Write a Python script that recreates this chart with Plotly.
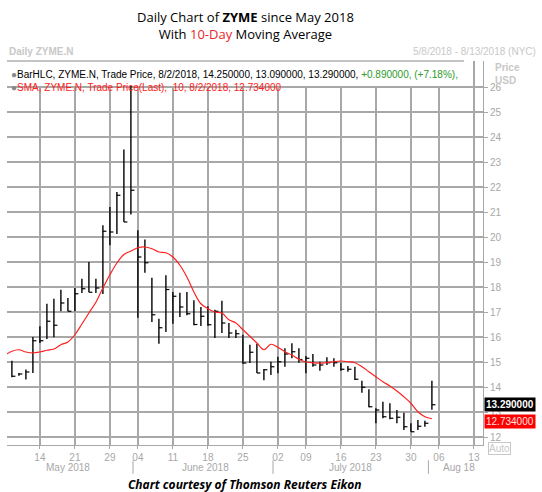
import plotly.graph_objects as go

# trading-day index 0 = 8 May 2018 ... 60 = 2 Aug 2018
high = [15.05, 14.56, 14.7, 16.0, 16.43, 17.33, 17.53, 17.89, 17.56, 17.96,
        18.33, 19.0, 18.33, 20.47, 21.2, 21.8, 23.5, 26.3, 20.27, 19.9,
        18.37, 16.73, 18.47, 17.8, 17.77, 17.8, 17.47, 17.2, 17.23, 17.09,
        17.45, 16.56, 16.29, 16.09, 15.69, 15.73, 14.72, 15.01, 15.21, 15.55,
        15.75, 15.55, 15.24, 15.32, 15.01, 15.19, 15.15, 14.97, 14.84, 14.81,
        14.25, 13.91, 13.15, 13.41, 13.35, 13.08, 12.97, 12.55, 12.68, 12.65, 14.25]
low = [14.39, 14.45, 14.3, 14.56, 15.76, 15.92, 15.99, 17.03, 17.03, 17.03,
       17.76, 17.79, 17.76, 17.72, 19.67, 20.12, 20.6, 20.9, 16.77, 18.57,
       16.6, 15.73, 16.2, 16.53, 16.8, 16.87, 16.47, 16.44, 16.45, 15.96,
       16.16, 15.96, 15.96, 14.93, 14.96, 14.56, 14.27, 14.48, 14.55, 14.81,
       15.15, 14.97, 14.55, 14.81, 14.65, 14.88, 14.81, 14.65, 14.61, 14.28,
       13.77, 13.19, 12.55, 12.75, 12.71, 12.55, 12.28, 12.21, 12.28, 12.41, 13.09]
close = [14.43, 14.52, 14.6, 15.85, 15.85, 16.63, 16.47, 17.36, 17.03, 17.73,
         17.93, 17.79, 17.96, 20.23, 20.2, 21.67, 20.6, 21.87, 19.2, 18.97,
         16.89, 16.37, 17.9, 17.63, 17.2, 16.93, 16.5, 16.83, 16.49, 17.03,
         16.56, 16.16, 16.13, 14.96, 15.39, 14.56, 14.69, 14.81, 15.01, 15.32,
         15.41, 15.1, 15.15, 14.88, 14.88, 14.97, 14.97, 14.71, 14.71, 14.31,
         13.99, 13.21, 13.08, 12.81, 12.75, 12.79, 12.41, 12.21, 12.43, 12.55, 13.29]

sma_x = list(range(-1, 61))
sma = [15.27, 15.43, 15.49, 15.4, 15.36, 15.4, 15.47, 15.52, 15.69, 15.8, 16.09,
       16.52, 16.96, 17.39, 17.96, 18.49, 18.96, 19.3, 19.44, 19.57, 19.6,
       19.53, 19.4, 19.37, 19.2, 18.87, 18.4, 17.8, 17.33, 17.13, 17.0,
       16.96, 16.69, 16.56, 16.29, 16.03, 15.76, 15.49, 15.71, 15.59, 15.41,
       15.28, 15.11, 15.0, 14.97, 14.95, 14.97, 15.01, 15.04, 15.01, 14.97,
       14.81, 14.61, 14.41, 14.21, 14.04, 13.84, 13.61, 13.35, 13.01, 12.81, 12.73]

tick_pos = [4, 9, 14, 18, 23, 28, 33, 38, 42, 47, 52, 57, 61, 66]
tick_text = ["14", "21", "29", "04", "11", "18", "25", "02", "09", "16", "23", "30", "06", "13"]
price_ticks = list(range(12, 27))
months = ["May 2018", "June 2018", "July 2018", "Aug 18"]
month_pos = [8, 27.6, 48.4, 63.8]
month_sep = [17.3, 37.3, 59.5]

GRAY = "#a8a8a8"
FONT = "Liberation Sans"

# HLC bars: vertical high-low segments plus a close tick on the right
bx, by, cx, cy = [], [], [], []
for i in range(len(close)):
    bx += [i, i, None]
    by += [low[i], high[i], None]
    cx += [i, i + 0.5, None]
    cy += [close[i], close[i], None]

fig = go.Figure()
fig.add_trace(go.Scatter(x=bx, y=by, mode="lines", line=dict(color="black", width=1.4), hoverinfo="skip"))
fig.add_trace(go.Scatter(x=cx, y=cy, mode="lines", line=dict(color="black", width=1.2), hoverinfo="skip"))
fig.add_trace(go.Scatter(x=sma_x, y=sma, mode="lines", line=dict(color="#ff2020", width=1.2, shape="spline")))

fig.update_layout(
    width=542, height=492, showlegend=False,
    margin=dict(l=7, r=59, t=61, b=47, autoexpand=False),
    paper_bgcolor="white", plot_bgcolor="white",
    font=dict(family=FONT, size=10, color="black"),
)
fig.update_xaxes(range=[-0.7, 67.3], tickvals=tick_pos, ticktext=tick_text, automargin=False,
                 showgrid=True, gridcolor=GRAY, gridwidth=1.5,
                 tickfont=dict(color=GRAY, size=10), ticks="outside", tickcolor=GRAY, ticklen=3,
                 showline=True, linecolor=GRAY, zeroline=False)
fig.update_yaxes(range=[11.68, 27.04], side="right", tickvals=price_ticks, showgrid=True, gridcolor=GRAY,
                 gridwidth=1.5, automargin=False,
                 tickfont=dict(color=GRAY, size=10), ticks="outside", tickcolor=GRAY, ticklen=4,
                 showline=True, linecolor=GRAY, zeroline=False)

# title
fig.add_annotation(x=0.5, y=1.0, xref="paper", yref="paper", yanchor="top", showarrow=False,
                   yshift=61 - 6, font=dict(size=13, family="Open Sans"),
                   text="Daily Chart of <b>ZYME</b> since May 2018<br>With <span style='color:#e8262a'>10-Day</span> Moving Average")
# header
fig.add_annotation(x=0, y=1, xref="paper", yref="paper", xanchor="left", yanchor="bottom", yshift=2,
                   showarrow=False, text="<b>Daily ZYME.N</b>", font=dict(color="#c8c8c8", size=10))
fig.add_annotation(x=1.116, y=1, xref="paper", yref="paper", xanchor="right", yanchor="bottom", yshift=2,
                   showarrow=False, text="5/8/2018 - 8/13/2018 (NYC)", font=dict(color="#c8c8c8", size=10))
# legend rows
fig.add_shape(type="rect", x0=0, x1=0.96, y0=0.935, y1=1, xref="paper", yref="paper",
              fillcolor="white", line=dict(width=0), layer="above")
fig.add_shape(type="line", x0=0, x1=0.96, y0=1, y1=1, xref="paper", yref="paper", line=dict(color="#888", width=1))
fig.add_annotation(x=0.005, y=0.985, xref="paper", yref="paper", xanchor="left", showarrow=False,
                   font=dict(size=10),
                   text="<span style='color:#888'>●</span>BarHLC, ZYME.N, Trade Price, 8/2/2018, 14.250000, 13.090000, 13.290000, "
                        "<span style='color:#2a9a2a'>+0.890000, (+7.18%),</span>")
fig.add_annotation(x=0.005, y=0.95, xref="paper", yref="paper", xanchor="left", showarrow=False,
                   font=dict(size=10, color="#ff2020"),
                   text="<span style='color:#888'>●</span>SMA, ZYME.N, Trade Price(Last),  10, 8/2/2018, 12.734000")
# price/USD label
fig.add_annotation(x=1.02, y=1.0, xref="paper", yref="paper", xanchor="left", yanchor="top", yshift=1,
                   showarrow=False, align="left", text="<b>Price<br>USD</b>", font=dict(color="#c8c8c8", size=10))
# last value boxes
fig.add_annotation(x=1.003, y=close[-1], xref="paper", yref="y", xanchor="left", showarrow=False,
                   text="<b>13.290000</b>", bgcolor="black", font=dict(color="white", size=10), borderpad=1)
fig.add_annotation(x=1.003, y=sma[-1], xref="paper", yref="y", xanchor="left", showarrow=False, yshift=-3,
                   text="12.734000", bgcolor="#ff0000", font=dict(color="#ffe0e0", size=10), borderpad=1)
fig.add_annotation(x=1.01, y=-0.01, xref="paper", yref="paper", xanchor="left", yanchor="middle", showarrow=False,
                   text="Auto", font=dict(color="#c8c8c8", size=10), bgcolor="white",
                   bordercolor="#c8c8c8", borderwidth=1, borderpad=0)
# months
for m, p in zip(months, month_pos):
    fig.add_annotation(x=p, y=0, xref="x", yref="paper", yanchor="top", yshift=-15, showarrow=False,
                       text=m, font=dict(color=GRAY, size=10))
for s in month_sep:
    fig.add_shape(type="line", x0=s, x1=s, y0=-0.04, y1=-0.075, xref="x", yref="paper", line=dict(color=GRAY, width=1))
# caption
fig.add_annotation(x=0.5, y=0, xref="paper", yref="paper", yanchor="top", yshift=-29, showarrow=False,
                   text="<b><i>Chart courtesy of Thomson Reuters Eikon</i></b>", font=dict(size=12, family="Open Sans"))

# drop the browser's default 8px body margin so the figure fills the window
fig.write_html("out.html", config={"displayModeBar": False},
               post_script="document.body.style.margin='0';")
